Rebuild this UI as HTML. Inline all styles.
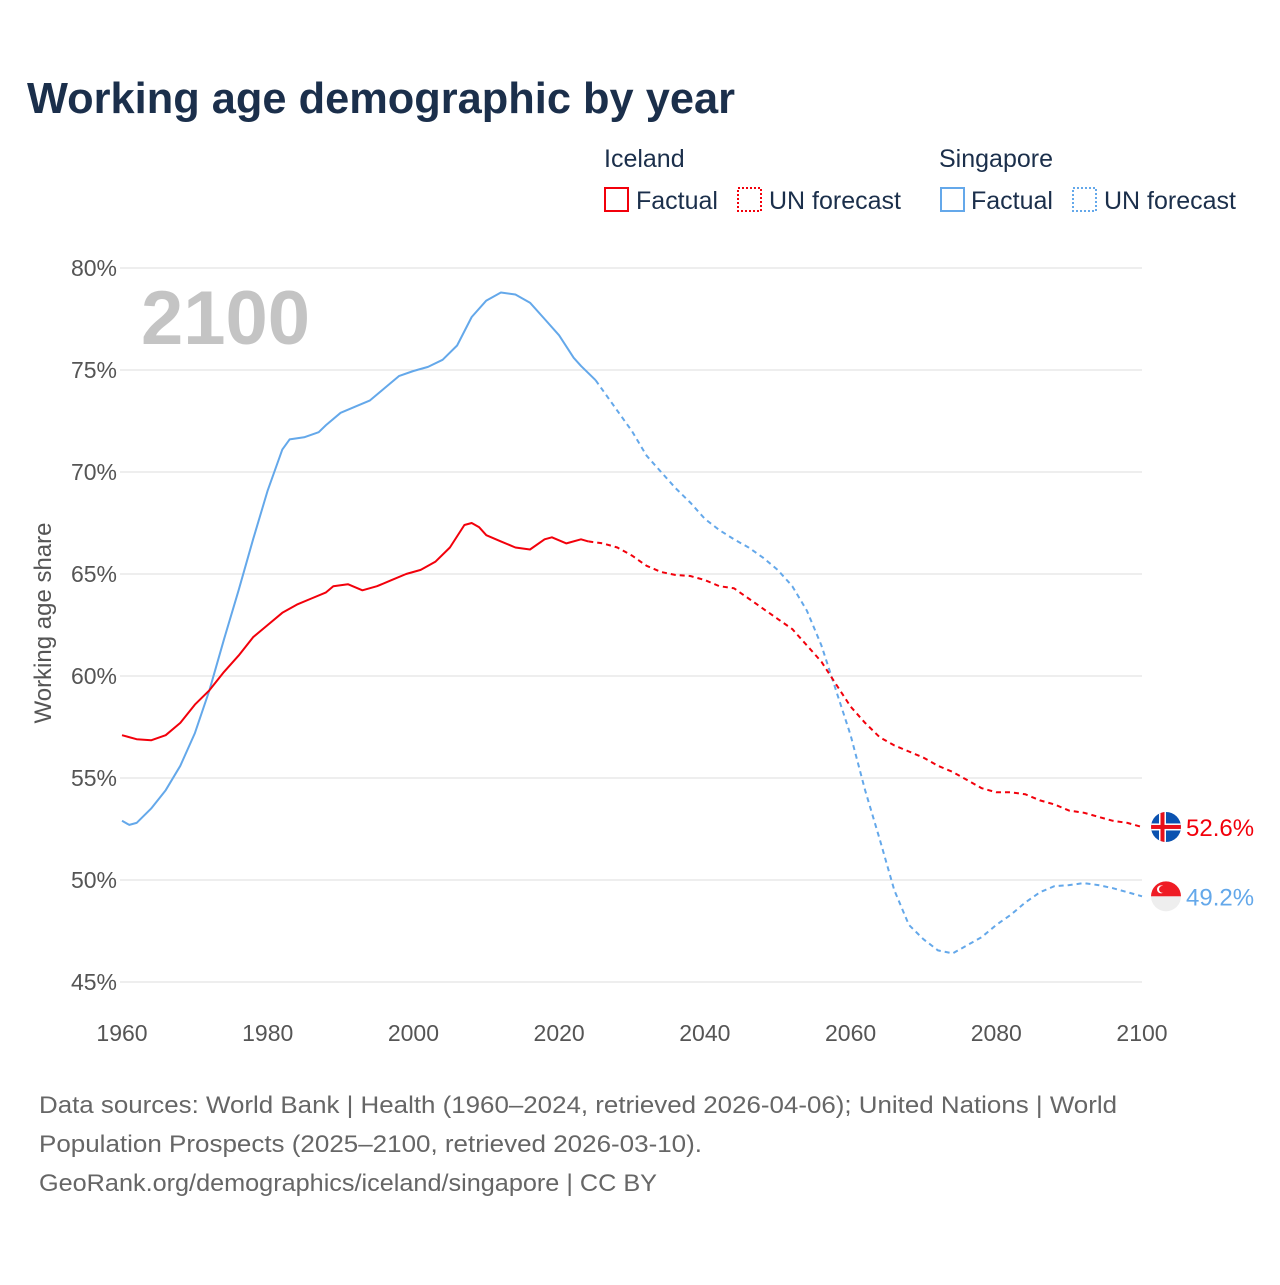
<!DOCTYPE html>
<html><head><meta charset="utf-8"><style>
body{margin:0;background:#fff;width:1280px;height:1280px;overflow:hidden;font-family:"Liberation Sans",sans-serif}
</style></head><body>
<svg id="chart" width="1280" height="1280" xmlns="http://www.w3.org/2000/svg" font-family="Liberation Sans, sans-serif">
<text x="27" y="113" font-size="44" font-weight="bold" fill="#1b2f4b" textLength="708" lengthAdjust="spacingAndGlyphs">Working age demographic by year</text>
<g font-size="25" fill="#1b2f4b">
<text x="604" y="167">Iceland</text>
<text x="939" y="167">Singapore</text>
<rect x="605" y="188" width="23" height="23" fill="none" stroke="#f2000b" stroke-width="2"/>
<text x="636" y="209">Factual</text>
<rect x="738" y="188" width="23" height="23" fill="none" stroke="#f2000b" stroke-width="2" stroke-dasharray="2,2"/>
<text x="769" y="209">UN forecast</text>
<rect x="941" y="188" width="23" height="23" fill="none" stroke="#64a8ea" stroke-width="2"/>
<text x="971" y="209">Factual</text>
<rect x="1073" y="188" width="23" height="23" fill="none" stroke="#64a8ea" stroke-width="2" stroke-dasharray="2,2"/>
<text x="1104" y="209">UN forecast</text>
</g>
<g id="grid"></g>
<text x="141" y="344" font-size="76" font-weight="bold" fill="#c4c4c4">2100</text>
<text transform="translate(51,623) rotate(-90)" text-anchor="middle" font-size="24" fill="#555">Working age share</text>
<g id="series"></g>
<g id="ends"></g>
<g font-size="24" fill="#666">
<text x="39" y="1113" textLength="1078" lengthAdjust="spacingAndGlyphs">Data sources: World Bank | Health (1960–2024, retrieved 2026-04-06); United Nations | World</text>
<text x="39" y="1152" textLength="663" lengthAdjust="spacingAndGlyphs">Population Prospects (2025–2100, retrieved 2026-03-10).</text>
<text x="39" y="1191" textLength="618" lengthAdjust="spacingAndGlyphs">GeoRank.org/demographics/iceland/singapore | CC BY</text>
</g>
</svg>
<script>
const yTicks=[45,50,55,60,65,70,75,80];
const xTicks=[1960,1980,2000,2020,2040,2060,2080,2100];
const iceYearsF=[1960,1962,1964,1966,1968,1970,1972,1974,1976,1978,1980,1982,1984,1986,1988,1989,1991,1993,1995,1997,1999,2001,2003,2005,2007,2008,2009,2010,2012,2014,2016,2018,2019,2021,2023,2024];
const iceValsF=[57.1,56.9,56.85,57.1,57.7,58.6,59.3,60.2,61.0,61.9,62.5,63.1,63.5,63.8,64.1,64.4,64.5,64.2,64.4,64.7,65.0,65.2,65.6,66.3,67.4,67.5,67.3,66.9,66.6,66.3,66.2,66.7,66.8,66.5,66.7,66.6];
const iceYearsP=[2024,2026,2028,2030,2032,2034,2036,2038,2040,2042,2044,2046,2048,2050,2052,2054,2056,2058,2060,2062,2064,2066,2068,2070,2072,2074,2076,2078,2080,2082,2084,2086,2088,2090,2092,2094,2096,2098,2100];
const iceValsP=[66.6,66.5,66.3,65.9,65.4,65.1,64.95,64.9,64.7,64.4,64.3,63.8,63.3,62.8,62.3,61.5,60.7,59.6,58.5,57.7,57.0,56.6,56.3,56.0,55.6,55.3,54.9,54.5,54.3,54.3,54.2,53.9,53.7,53.4,53.3,53.1,52.9,52.8,52.6];
const sgpYearsF=[1960,1961,1962,1964,1966,1968,1970,1972,1974,1976,1978,1980,1982,1983,1985,1987,1988,1990,1992,1994,1996,1998,2000,2002,2004,2006,2008,2010,2012,2014,2016,2018,2020,2022,2023,2024,2025];
const sgpValsF=[52.9,52.7,52.8,53.5,54.4,55.6,57.2,59.3,61.8,64.2,66.7,69.1,71.1,71.6,71.7,71.95,72.3,72.9,73.2,73.5,74.1,74.7,74.95,75.15,75.5,76.2,77.6,78.4,78.8,78.7,78.3,77.5,76.7,75.6,75.2,74.85,74.5];
const sgpYearsP=[2025,2028,2030,2032,2034,2036,2038,2040,2042,2044,2046,2048,2050,2052,2054,2056,2058,2060,2062,2064,2066,2068,2070,2072,2074,2076,2078,2080,2082,2084,2086,2088,2090,2092,2094,2096,2098,2100];
const sgpValsP=[74.5,73.0,72.0,70.8,70.0,69.2,68.5,67.7,67.15,66.7,66.3,65.8,65.2,64.4,63.2,61.5,59.3,57.1,54.4,52.0,49.5,47.8,47.1,46.55,46.4,46.8,47.2,47.8,48.3,48.9,49.4,49.7,49.75,49.85,49.75,49.6,49.4,49.2];
const NS="http://www.w3.org/2000/svg";
const X=y=>122+(y-1960)*(1020/140);
const Y=v=>268+(80-v)*(714/35);
function mk(t,a,p){const e=document.createElementNS(NS,t);for(const k in a)e.setAttribute(k,a[k]);p.appendChild(e);return e;}
const grid=document.getElementById('grid');
yTicks.forEach(v=>{
 const l=mk('line',{x1:120,x2:1142,y1:Y(v),y2:Y(v),stroke:'#dedede','stroke-width':1},grid);
 
 
 const t=mk('text',{x:117,y:Y(v)+8,'text-anchor':'end','font-size':23,fill:'#555'},grid);
 t.textContent=v+'%';
 
 
});
xTicks.forEach(v=>{
 const t=mk('text',{x:X(v),y:1041,'text-anchor':'middle','font-size':23,fill:'#555'},grid);
 t.textContent=v;
 
 
});
const ser=document.getElementById('series');
function line(ys,vs,col,dash,name){
 const d=ys.map((y,i)=>(i?'L':'M')+X(y).toFixed(1)+','+Y(vs[i]).toFixed(1)).join('');
 const p=mk('path',{d:d,fill:'none',stroke:col,'stroke-width':2,'stroke-linejoin':'round'},ser);
 if(dash)p.setAttribute('stroke-dasharray','5,4');
 
 
}
line(sgpYearsF,sgpValsF,'#64a8ea',false,'singapore-factual-line');
line(sgpYearsP,sgpValsP,'#64a8ea',true,'singapore-forecast-line');
line(iceYearsF,iceValsF,'#f2000b',false,'iceland-factual-line');
line(iceYearsP,iceValsP,'#f2000b',true,'iceland-forecast-line');
const ends=document.getElementById('ends');
const iv=iceValsP[iceValsP.length-1], sv=sgpValsP[sgpValsP.length-1];
const cx=1166, iy=Y(iv), sy=Y(sv);
const gi=mk('g',{},ends);


const cp=mk('clipPath',{id:'ci'},gi);
mk('circle',{cx:cx,cy:iy,r:15},cp);
const gic=mk('g',{'clip-path':'url(#ci)'},gi);
mk('rect',{x:cx-15,y:iy-15,width:30,height:30,fill:'#0b52b0'},gic);
mk('rect',{x:cx-7,y:iy-15,width:7,height:30,fill:'#fff'},gic);
mk('rect',{x:cx-15,y:iy-3.5,width:30,height:7,fill:'#fff'},gic);
mk('rect',{x:cx-5.5,y:iy-15,width:4,height:30,fill:'#e8101a'},gic);
mk('rect',{x:cx-15,y:iy-2,width:30,height:4,fill:'#e8101a'},gic);
const gs=mk('g',{},ends);


mk('path',{d:`M${cx-15},${sy} A15,15 0 0 1 ${cx+15},${sy} Z`,fill:'#ef1c25'},gs);
mk('path',{d:`M${cx-15},${sy} A15,15 0 0 0 ${cx+15},${sy} Z`,fill:'#eeeeee'},gs);
mk('circle',{cx:cx-5,cy:sy-7,r:4,fill:'#fff'},gs);
mk('circle',{cx:cx-3.5,cy:sy-7,r:3.5,fill:'#ef1c25'},gs);
const ti=mk('text',{x:1186,y:iy+9,'font-size':24,fill:'#f2000b'},ends);
ti.textContent=iv.toFixed(1)+'%';


const ts=mk('text',{x:1186,y:sy+9,'font-size':24,fill:'#64a8ea'},ends);
ts.textContent=sv.toFixed(1)+'%';


</script>
</body></html>
